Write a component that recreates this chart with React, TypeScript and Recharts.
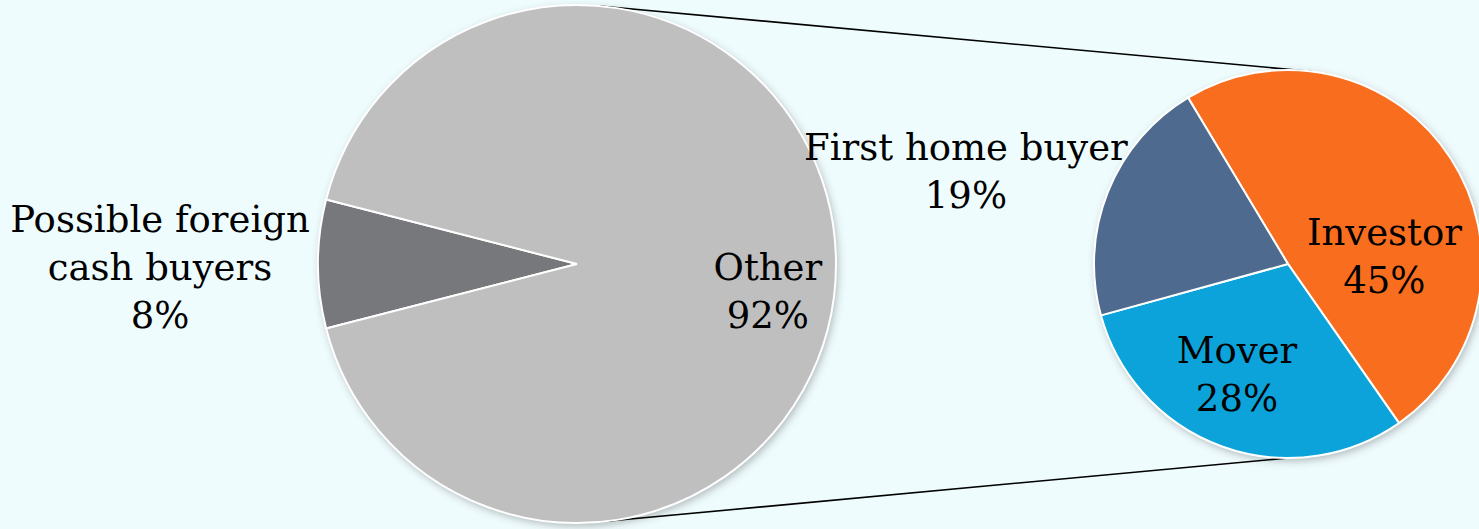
import React from 'react';
import { PieChart, Pie, Cell, Customized } from 'recharts';

// ---- data ----
const primaryNames = ['Possible foreign cash buyers', 'Other'];
const primaryValues = [8, 92];
const primaryLabelLines = [['Possible foreign', 'cash buyers'], ['Other']];

const secondaryNames = ['Investor', 'Mover', 'First home buyer'];
const secondaryValues = [45, 28, 19];
const secondaryLabelLines = [['Investor'], ['Mover'], ['First home buyer']];

// ---- styles / layout ----
const W = 1479;
const H = 529;
const BG = '#effcfe';
const FONT = '"DejaVu Serif", Georgia, serif';
const FONT_SIZE = 37;
const LINE_H = 48;

const primaryColors = ['#77787c', '#bfbfbf'];
const secondaryColors = ['#f96d1e', '#0ba3d9', '#4f6a8f'];

const P1 = { cx: 577, cy: 264, r: 259 };
const P2 = { cx: 1288, cy: 264, r: 194 };

// label anchor offsets (relative to pie centre, in units of radius): centre x, first baseline y
const primaryLabelPos = [
  { dx: -1.61, dy: -0.124 },
  { dx: 0.737, dy: 0.062 },
];
const secondaryLabelPos = [
  { dx: 0.497, dy: -0.098 },
  { dx: -0.263, dy: 0.510 },
  { dx: -1.66, dy: -0.536 },
];

const primaryData = primaryNames.map((name, i) => ({ name, value: primaryValues[i] }));
const secondaryData = secondaryNames.map((name, i) => ({ name, value: secondaryValues[i] }));

const makeLabel = (
  geom: { cx: number; cy: number; r: number },
  linesArr: string[][],
  pos: { dx: number; dy: number }[]
) => (props: any) => {
  const i = props.index as number;
  const x = geom.cx + pos[i].dx * geom.r;
  const y0 = geom.cy + pos[i].dy * geom.r;
  const lines = [...linesArr[i], `${props.value}%`];
  return (
    <text
      key={`lbl-${i}`}
      x={x}
      y={y0}
      textAnchor="middle"
      fill="#000"
      style={{ fontFamily: FONT, fontSize: FONT_SIZE }}
    >
      {lines.map((l, k) => (
        <tspan key={k} x={x} y={y0 + k * LINE_H}>
          {l}
        </tspan>
      ))}
    </text>
  );
};

const polar = (g: { cx: number; cy: number; r: number }, deg: number) => ({
  x: g.cx + g.r * Math.cos((deg * Math.PI) / 180),
  y: g.cy - g.r * Math.sin((deg * Math.PI) / 180),
});

const Decorations = () => {
  const a1 = polar(P1, 85);
  const a2 = polar(P2, 83);
  const b1 = polar(P1, -83);
  const b2 = polar(P2, -90);
  return (
    <g>
      <defs>
        <filter id="pieShadow" x="-20%" y="-20%" width="140%" height="140%">
          <feGaussianBlur stdDeviation="4" />
        </filter>
      </defs>
      <circle cx={P1.cx + 2} cy={P1.cy + 3} r={P1.r} fill="rgba(0,0,0,0.28)" filter="url(#pieShadow)" />
      <circle cx={P2.cx + 2} cy={P2.cy + 3} r={P2.r} fill="rgba(0,0,0,0.28)" filter="url(#pieShadow)" />
      <line x1={a1.x} y1={a1.y} x2={a2.x} y2={a2.y} stroke="#000" strokeWidth={1.6} />
      <line x1={b1.x} y1={b1.y} x2={b2.x} y2={b2.y} stroke="#000" strokeWidth={1.6} />
    </g>
  );
};

export default function App() {
  return (
    <div style={{ position: 'absolute', left: 0, top: 0, width: W, height: H, background: BG, overflow: 'hidden' }}>
      <PieChart width={W} height={H} margin={{ top: 0, right: 0, bottom: 0, left: 0 }}>
        <Customized component={Decorations} />
        <Pie
          data={primaryData}
          dataKey="value"
          nameKey="name"
          cx={P1.cx}
          cy={P1.cy}
          outerRadius={P1.r}
          startAngle={165.6}
          endAngle={525.6}
          stroke="#ffffff"
          strokeWidth={2}
          isAnimationActive={false}
          labelLine={false}
          label={makeLabel(P1, primaryLabelLines, primaryLabelPos)}
        >
          {primaryData.map((d, i) => (
            <Cell key={d.name} fill={primaryColors[i]} />
          ))}
        </Pie>
        <Pie
          data={secondaryData}
          dataKey="value"
          nameKey="name"
          cx={P2.cx}
          cy={P2.cy}
          outerRadius={P2.r}
          startAngle={121}
          endAngle={-239}
          stroke="#ffffff"
          strokeWidth={2}
          isAnimationActive={false}
          labelLine={false}
          label={makeLabel(P2, secondaryLabelLines, secondaryLabelPos)}
        >
          {secondaryData.map((d, i) => (
            <Cell key={d.name} fill={secondaryColors[i]} />
          ))}
        </Pie>
      </PieChart>
    </div>
  );
}
